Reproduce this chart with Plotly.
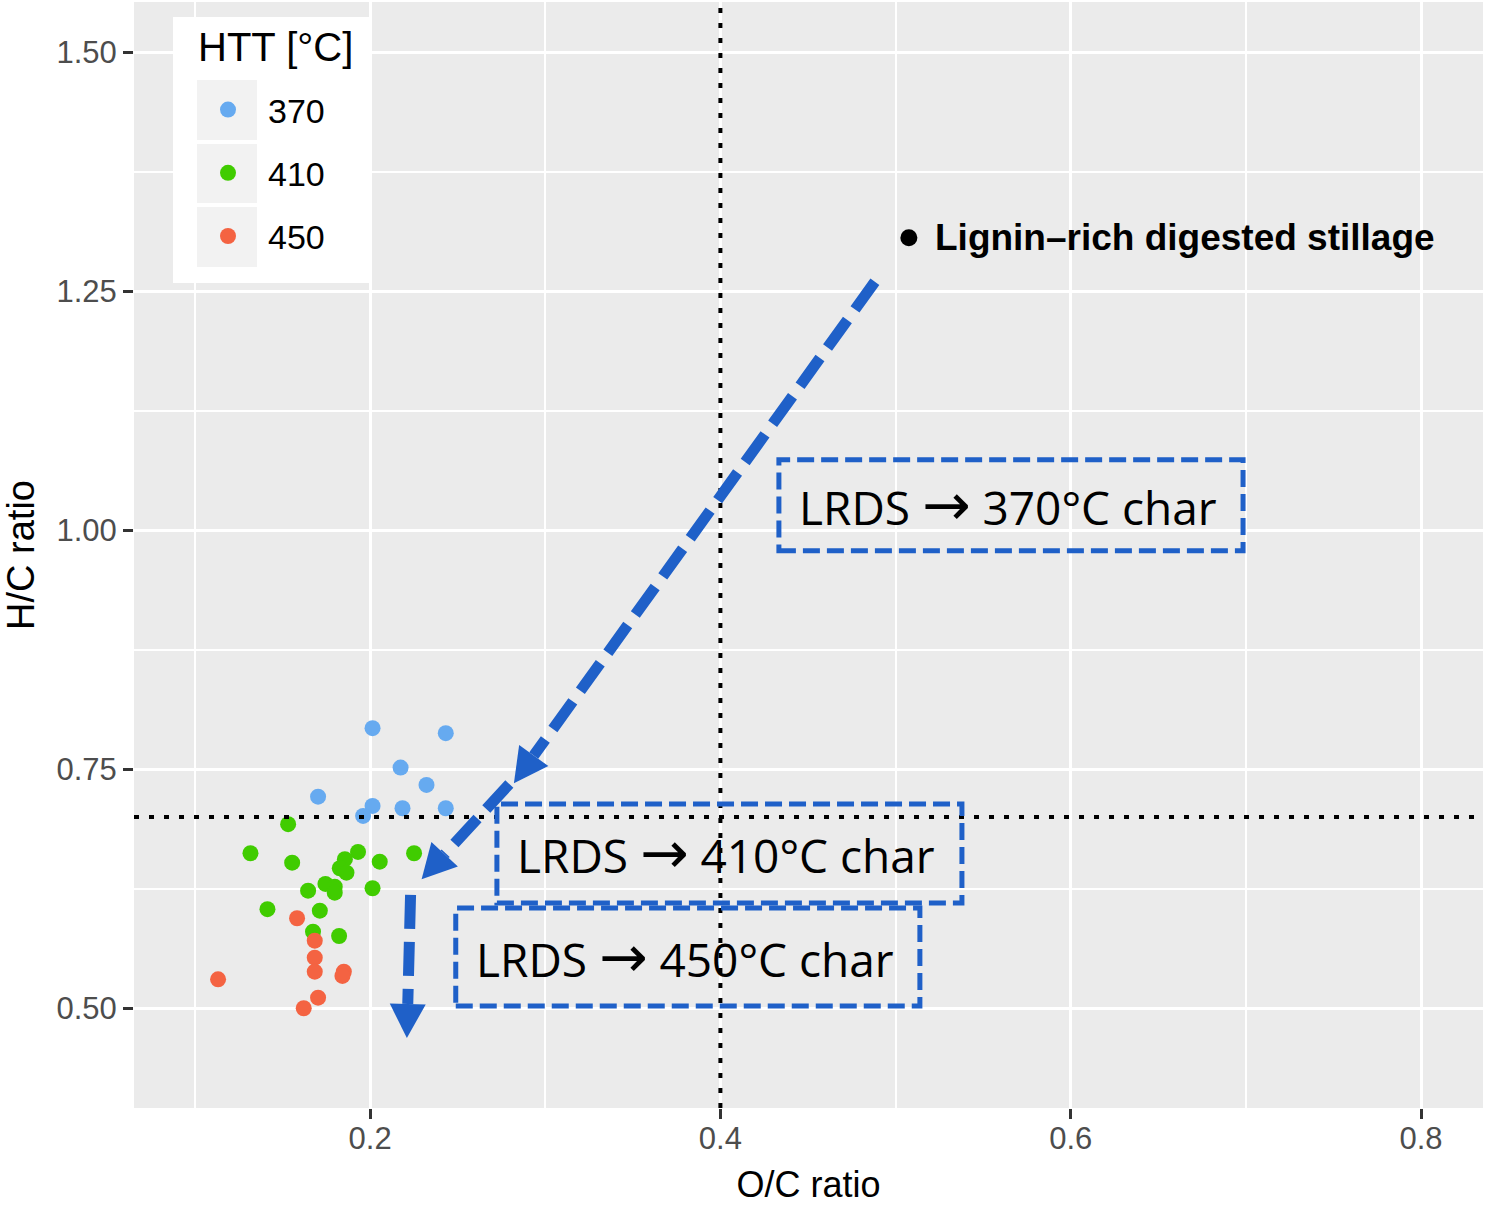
import math
import plotly.graph_objects as go

# --- data: O/C and H/C atomic ratios of chars by hydrothermal temperature ---
oc_370 = [0.2014, 0.2432, 0.2174, 0.2322, 0.1703, 0.2014, 0.1960, 0.2185, 0.2432]
hc_370 = [0.7929, 0.7877, 0.7517, 0.7336, 0.7213, 0.7116, 0.7011, 0.7092, 0.7092]

oc_410 = [0.1532, 0.1317, 0.1555, 0.1931, 0.1856, 0.2055, 0.2251, 0.1827, 0.1865,
          0.1745, 0.1646, 0.1798, 0.1798, 0.2014, 0.1414, 0.1713, 0.1674, 0.1823]
hc_410 = [0.6925, 0.6621, 0.6523, 0.6635, 0.6559, 0.6533, 0.6621, 0.6464, 0.6418,
          0.6300, 0.6230, 0.6272, 0.6209, 0.6255, 0.6036, 0.6021, 0.5801, 0.5756]

oc_450 = [0.1583, 0.1684, 0.1684, 0.1684, 0.1850, 0.1842, 0.1132, 0.1703, 0.1621]
hc_450 = [0.5941, 0.5707, 0.5529, 0.5383, 0.5383, 0.5338, 0.5303, 0.5111, 0.5000]

feed_oc = [0.5076]
feed_hc = [1.3058]
feed_label = "Lignin–rich digested stillage"

htt_title = "HTT [°C]"
htt_labels = ["370", "410", "450"]
htt_colors = ["#66AAF0", "#40CC00", "#F46342"]

ref_oc = 0.4
ref_hc = 0.7

x_ticks = [0.2, 0.4, 0.6, 0.8]
y_ticks = [0.50, 0.75, 1.00, 1.25, 1.50]

box_temps = ["370", "410", "450"]

# --- layout geometry ---
W, H = 1487, 1205
M = dict(l=134, r=4, t=2, b=97)
X_RANGE = [0.0652, 0.8354]
Y_RANGE = [0.3957, 1.5523]
px_per_x = (W - M["l"] - M["r"]) / (X_RANGE[1] - X_RANGE[0])
px_per_y = (H - M["t"] - M["b"]) / (Y_RANGE[1] - Y_RANGE[0])

BLUE = "#1F60C8"

fig = go.Figure()

for oc, hc, lab, col in zip([oc_370, oc_410, oc_450], [hc_370, hc_410, hc_450],
                            htt_labels, htt_colors):
    fig.add_trace(go.Scatter(
        x=oc, y=hc, mode="markers", name=lab, legendgroup=lab,
        marker=dict(size=16, color=col, line=dict(width=0)),
    ))

fig.add_trace(go.Scatter(
    x=feed_oc, y=feed_hc, mode="markers", showlegend=False,
    marker=dict(size=17, color="black", line=dict(width=0)),
))

shapes = []
annotations = []

# reference lines
shapes.append(dict(type="line", xref="x", yref="paper", x0=ref_oc, x1=ref_oc, y0=0, y1=1,
                   line=dict(color="black", width=4, dash="5px,10px"), layer="above"))
shapes.append(dict(type="line", xref="paper", yref="y", x0=0, x1=1, y0=ref_hc, y1=ref_hc,
                   line=dict(color="black", width=4, dash="5px,10px"), layer="above"))

# transformation pathway arrows (tail -> tip, in O/C, H/C units)
arrows = [
    ((0.4882, 1.2597), (0.2821, 0.7354)),
    ((0.2795, 0.7345), (0.2294, 0.6349)),
    ((0.2231, 0.6185), (0.2210, 0.4689)),
]
HEAD_LEN, HEAD_W = 34, 36
for (tx, ty), (hx, hy) in arrows:
    dxp = (hx - tx) * px_per_x
    dyp = (hy - ty) * px_per_y
    L = math.hypot(dxp, dyp)
    ux, uy = dxp / L, dyp / L
    bx = hx - HEAD_LEN * ux / px_per_x
    by = hy - HEAD_LEN * uy / px_per_y
    shapes.append(dict(type="line", xref="x", yref="y", x0=tx, y0=ty, x1=bx, y1=by,
                       line=dict(color=BLUE, width=11, dash="34px,13px"), layer="above"))
    px_, py_ = -uy, ux
    c1 = (bx + HEAD_W / 2 * px_ / px_per_x, by + HEAD_W / 2 * py_ / px_per_y)
    c2 = (bx - HEAD_W / 2 * px_ / px_per_x, by - HEAD_W / 2 * py_ / px_per_y)
    path = f"M {hx},{hy} L {c1[0]},{c1[1]} L {c2[0]},{c2[1]} Z"
    shapes.append(dict(type="path", xref="x", yref="y", path=path,
                       fillcolor=BLUE, line=dict(width=0), layer="above"))

# dashed label boxes
boxes = [
    (0.4334, 0.6984, 0.9784, 1.0735),
    (0.2724, 0.5379, 0.6101, 0.7137),
    (0.2489, 0.5139, 0.5024, 0.6049),
]
ARROW_GLYPH = '<span style="font-family:DejaVu Sans;font-size:58px">→</span>'
for (x0, x1, y0, y1), temp in zip(boxes, box_temps):
    shapes.append(dict(type="rect", xref="x", yref="y", x0=x0, x1=x1, y0=y0, y1=y1,
                       line=dict(color=BLUE, width=5, dash="17px,7px"), layer="above"))
    annotations.append(dict(x=(x0 + x1) / 2, y=(y0 + y1) / 2, xref="x", yref="y",
                            text=f"LRDS {ARROW_GLYPH} {temp}°C char",
                            showarrow=False, xanchor="center", yanchor="middle",
                            xshift=-3,
                            font=dict(family="Open Sans", size=46, color="black")))

annotations.append(dict(x=feed_oc[0], y=feed_hc[0], xref="x", yref="y", text=feed_label,
                        showarrow=False, xanchor="left", yanchor="middle", xshift=24,
                        font=dict(family="Liberation Sans", size=37, color="black",
                                  weight="bold")))

# legend backdrop, key squares and title
pw = W - M["l"] - M["r"]
ph = H - M["t"] - M["b"]
def fx(p):
    return (p - M["l"]) / pw
def fy(p):
    return 1 - (p - M["t"]) / ph

shapes.append(dict(type="rect", xref="paper", yref="paper", x0=fx(173), x1=fx(369),
                   y0=fy(283), y1=fy(17), fillcolor="white", line=dict(width=0),
                   layer="above"))
for top, bot in [(80, 140), (144, 203), (207, 267)]:
    shapes.append(dict(type="rect", xref="paper", yref="paper", x0=fx(197), x1=fx(257),
                       y0=fy(bot), y1=fy(top), fillcolor="#F2F2F2", line=dict(width=0),
                       layer="above"))
annotations.append(dict(x=fx(196), y=fy(47), xref="paper", yref="paper", text=htt_title,
                        showarrow=False, xanchor="left", yanchor="middle",
                        font=dict(family="Liberation Sans", size=40, color="black")))

fig.update_layout(
    width=W, height=H, margin=M,
    paper_bgcolor="white", plot_bgcolor="#EBEBEB",
    font=dict(family="Liberation Sans", color="black"),
    shapes=shapes, annotations=annotations,
    legend=dict(x=fx(188), y=fy(81), xanchor="left", yanchor="top",
                bgcolor="rgba(0,0,0,0)", font=dict(size=34, color="black"),
                tracegroupgap=16, itemwidth=70),
    xaxis=dict(range=X_RANGE, tickvals=x_ticks, ticktext=[f"{v:g}" for v in x_ticks],
               showgrid=True, gridcolor="white", gridwidth=3, zeroline=False,
               minor=dict(dtick=0.1, tick0=0, showgrid=True, gridcolor="white", gridwidth=1.5),
               ticks="outside", ticklen=10, tickwidth=2.5, tickcolor="#333333",
               ticklabelstandoff=-7,
               tickfont=dict(size=31, color="#4D4D4D"),
               title=dict(text="O/C ratio", font=dict(size=36, color="black"), standoff=22)),
    yaxis=dict(range=Y_RANGE, tickvals=y_ticks, ticktext=[f"{v:.2f}" for v in y_ticks],
               showgrid=True, gridcolor="white", gridwidth=3, zeroline=False,
               minor=dict(dtick=0.125, tick0=0, showgrid=True, gridcolor="white", gridwidth=1.5),
               ticks="outside", ticklen=10, tickwidth=2.5, tickcolor="#333333",
               tickfont=dict(size=31, color="#4D4D4D"),
               title=dict(text="H/C ratio", font=dict(size=38, color="black"), standoff=12)),
)

fig.write_html("out.html")
